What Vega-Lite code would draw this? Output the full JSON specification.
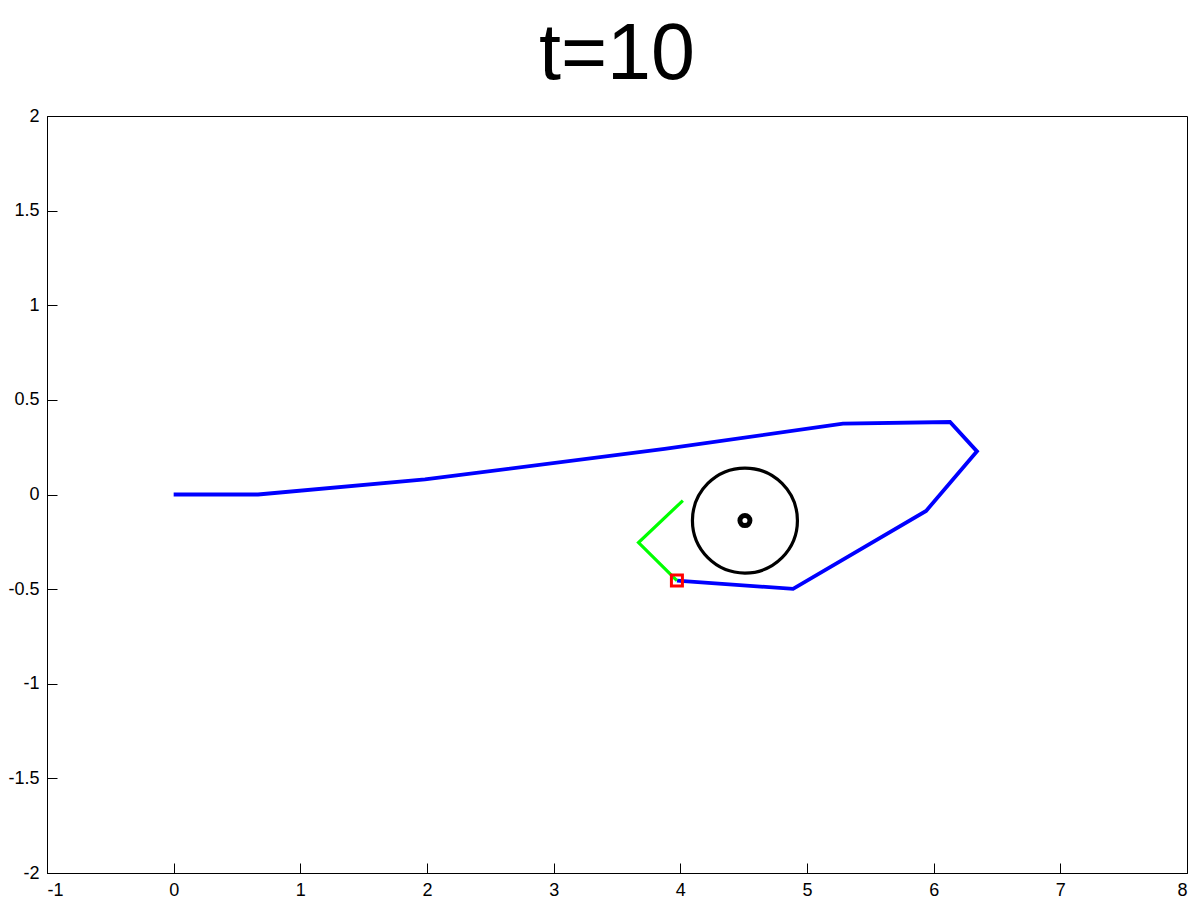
{
  "$schema": "https://vega.github.io/schema/vega-lite/v6.json",
  "width": 1140,
  "height": 757,
  "autosize": "none",
  "padding": {"left": 47, "top": 116, "right": 13, "bottom": 28},
  "background": "white",
  "title": {
    "text": "t=10",
    "font": "Liberation Sans",
    "fontSize": 79,
    "fontWeight": "normal",
    "color": "black",
    "anchor": "middle",
    "baseline": "top",
    "offset": 11
  },
  "config": {
    "view": {"stroke": "black", "strokeWidth": 1},
    "axis": {
      "grid": false,
      "domainColor": "black",
      "domainWidth": 1,
      "tickColor": "black",
      "tickWidth": 1,
      "tickSize": -10,
      "labelFont": "Liberation Sans",
      "labelFontSize": 18,
      "labelColor": "black",
      "title": null
    }
  },
  "datasets": {
    "path": [
      {"i": 0, "x": 0, "y": 0},
      {"i": 1, "x": 0.666, "y": 0},
      {"i": 2, "x": 1.984, "y": 0.08},
      {"i": 3, "x": 3.876, "y": 0.241},
      {"i": 4, "x": 5.284, "y": 0.374},
      {"i": 5, "x": 6.129, "y": 0.383},
      {"i": 6, "x": 6.342, "y": 0.228},
      {"i": 7, "x": 5.94, "y": -0.087},
      {"i": 8, "x": 4.89, "y": -0.499},
      {"i": 9, "x": 3.973, "y": -0.455}
    ],
    "arm": [
      {"i": 0, "x": 4.02, "y": -0.032},
      {"i": 1, "x": 3.67, "y": -0.254},
      {"i": 2, "x": 3.973, "y": -0.455}
    ],
    "obstacle": [{"x": 4.51, "y": -0.138}],
    "tip": [{"x": 3.973, "y": -0.455}]
  },
  "encoding": {
    "x": {
      "field": "x",
      "type": "quantitative",
      "scale": {"domain": [-1, 8], "nice": false, "zero": false},
      "axis": {"values": [-1, 0, 1, 2, 3, 4, 5, 6, 7, 8], "labelExpr": "'' + datum.value", "labelPadding": 18}
    },
    "y": {
      "field": "y",
      "type": "quantitative",
      "scale": {"domain": [-2, 2], "nice": false, "zero": false},
      "axis": {"values": [-2, -1.5, -1, -0.5, 0, 0.5, 1, 1.5, 2], "labelExpr": "'' + datum.value", "labelPadding": 18}
    }
  },
  "layer": [
    {
      "data": {"name": "path"},
      "mark": {"type": "line", "color": "#0000ff", "strokeWidth": 3.8, "strokeJoin": "miter"},
      "encoding": {"order": {"field": "i", "type": "quantitative"}}
    },
    {
      "data": {"name": "arm"},
      "mark": {"type": "line", "color": "#00ff00", "strokeWidth": 3.2},
      "encoding": {"order": {"field": "i", "type": "quantitative"}}
    },
    {
      "data": {"name": "obstacle"},
      "mark": {"type": "point", "shape": "circle", "filled": false, "size": 11025, "stroke": "black", "strokeWidth": 3.2, "opacity": 1}
    },
    {
      "data": {"name": "obstacle"},
      "mark": {"type": "point", "shape": "circle", "filled": false, "size": 100, "stroke": "black", "strokeWidth": 5, "opacity": 1}
    },
    {
      "data": {"name": "tip"},
      "mark": {"type": "point", "shape": "square", "filled": false, "size": 121, "stroke": "#ff0000", "strokeWidth": 3, "opacity": 1}
    }
  ]
}
